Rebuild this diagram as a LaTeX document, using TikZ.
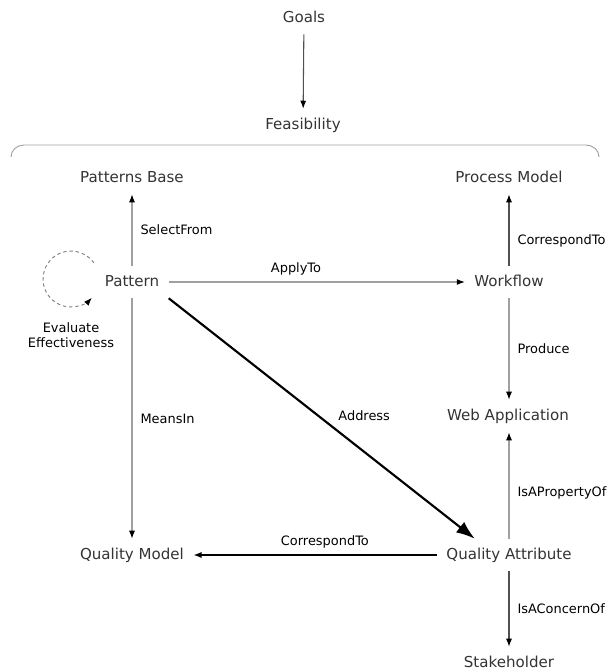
\documentclass[tikz,border=0pt]{standalone}
\usepackage{fontspec}
\setmainfont{DejaVu Sans}
\usepackage{xcolor}
\usepackage{tikz}
\usetikzlibrary{arrows.meta, calc}
\definecolor{txtgray}{HTML}{333333}
\definecolor{lngray}{HTML}{A0A0A0}
\definecolor{lndark}{HTML}{505050}

\begin{document}
\begin{tikzpicture}[x=0.75pt,y=0.75pt]
\tikzset{
  nn/.style={inner xsep=7pt,inner ysep=6.5pt,text height=8.5pt,text depth=2.5pt,font=\fontsize{11.3}{13}\selectfont,text=txtgray},
  lb/.style={font=\fontsize{9.7}{11.25}\selectfont,text=black,inner sep=2pt},
  ar/.style={-{Latex[length=6pt,width=4.5pt,color=black]},line width=0.8pt},
  arl/.style={ar,draw=lngray},
  ard/.style={ar,draw=lndark},
  arb/.style={-{Latex[length=14pt,width=10pt]},line width=1.6pt,draw=black}
}
\useasboundingbox (0,0) rectangle (608,-672);
% nodes
\node[nn] (goals) at (304,-18) {Goals};
\node[nn] (feas) at (303,-125) {Feasibility};
\node[nn] (pbase) at (132,-178) {Patterns Base};
\node[nn] (pmodel) at (509,-178) {Process Model};
\node[nn] (pattern) at (132,-282) {Pattern};
\node[nn] (workflow) at (509,-282) {Workflow};
\node[nn] (webapp) at (508,-416) {Web Application};
\node[nn] (qmodel) at (132,-555) {Quality Model};
\node[nn] (qattr) at (509,-555) {Quality Attribute};
\node[nn] (stake) at (509,-663) {Stakeholder};
% bracket under Feasibility
\draw[lngray,line width=0.7pt] (11,-157) to[out=90,in=180] (24,-145) -- (586,-145) to[out=0,in=90] (599,-157);
% self loop on Pattern
\coordinate (loopc) at (71,-279);
\draw[gray,dashed,dash pattern=on 2.5pt off 2.2pt,line width=0.7pt,-{Latex[length=6pt,width=4.5pt,color=black]}]
  ($(loopc)+(35:28)$) arc[start angle=35,end angle=318,radius=28];
\node[lb,align=center] (evlbl) at (71,-335) {Evaluate\\Effectiveness};
% connectors
\draw[ard] (goals) -- (feas);
\draw[arl] (pattern) -- node[lb,right=4pt]{SelectFrom} (pbase);
\draw[ard] (workflow) -- node[lb,right=4pt,pos=.35]{CorrespondTo} (pmodel);
\draw[arl] (pattern) -- node[lb,above=3pt,pos=.43]{ApplyTo} (workflow);
\draw[arl] (workflow) -- node[lb,right=4pt]{Produce} (workflow |- webapp.north);
\draw[arl] (pattern) -- node[lb,right=4pt]{MeansIn} (qmodel);
\draw[arb] (pattern.south east) -- node[lb,anchor=west,xshift=12pt,pos=.49]{Address} ($(qattr.north west)+(38,0)$);
\draw[arl] (qattr) -- node[lb,right=4pt,pos=.43]{IsAPropertyOf} (qattr |- webapp.south);
\draw[-{Latex[length=6pt,width=4.5pt]},line width=0.8pt] (qattr) -- node[lb,above=3pt,pos=.46]{CorrespondTo} (qmodel);
\draw[ard] (qattr) -- node[lb,right=4pt]{IsAConcernOf} (stake);
\end{tikzpicture}
\end{document}
